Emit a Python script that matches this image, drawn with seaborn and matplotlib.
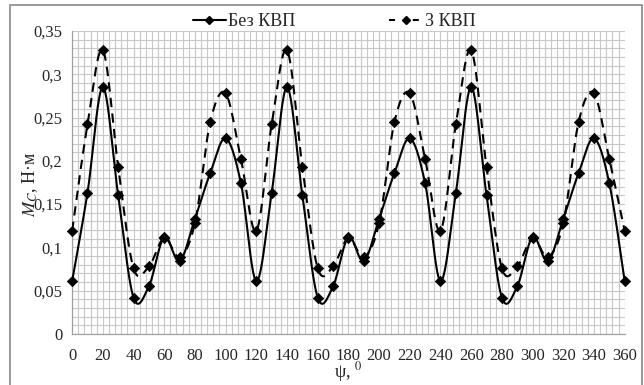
import numpy as np
import pandas as pd
import matplotlib
matplotlib.use("Agg")
import matplotlib.pyplot as plt
import seaborn as sns
from matplotlib.lines import Line2D
from matplotlib.patches import Rectangle
from matplotlib.ticker import MultipleLocator, FuncFormatter

# rotation angle, degrees
psi = list(range(0, 361, 10))

# one 120-degree period of each curve (the pattern repeats three times)
no_kvp_period = [0.061, 0.163, 0.285, 0.160, 0.042, 0.055, 0.112, 0.084,
                 0.133, 0.186, 0.226, 0.174]
kvp_period = [0.119, 0.242, 0.328, 0.193, 0.076, 0.078, 0.111, 0.089,
              0.128, 0.245, 0.278, 0.202]

m_no_kvp = no_kvp_period * 3 + [no_kvp_period[0]]
m_kvp = kvp_period * 3 + [kvp_period[0]]

labels = ["Без КВП", "З КВП"]
x_ticks = list(range(0, 361, 20))
y_ticks = [0, 0.05, 0.1, 0.15, 0.2, 0.25, 0.3, 0.35]


def smooth_curve(x, y, steps=24):
    """Excel-like smoothed line (Catmull-Rom / Bezier with 1/6 tension)."""
    x = np.asarray(x, dtype=float)
    y = np.asarray(y, dtype=float)
    px = np.concatenate([[x[0]], x, [x[-1]]])
    py = np.concatenate([[y[0]], y, [y[-1]]])
    xs, ys = [], []
    t = np.linspace(0, 1, steps, endpoint=False)
    for i in range(1, len(px) - 2):
        p0 = np.array([px[i - 1], py[i - 1]])
        p1 = np.array([px[i], py[i]])
        p2 = np.array([px[i + 1], py[i + 1]])
        p3 = np.array([px[i + 2], py[i + 2]])
        c1 = p1 + (p2 - p0) / 6
        c2 = p2 - (p3 - p1) / 6
        b = ((1 - t) ** 3)[:, None] * p1 + (3 * (1 - t) ** 2 * t)[:, None] * c1 \
            + (3 * (1 - t) * t ** 2)[:, None] * c2 + (t ** 3)[:, None] * p2
        xs.extend(b[:, 0])
        ys.extend(b[:, 1])
    xs.append(x[-1])
    ys.append(y[-1])
    return np.array(xs), np.array(ys)


sns.set_style("white")
plt.rcParams['font.family'] = ['Liberation Serif', 'DejaVu Serif']
plt.rcParams['mathtext.fontset'] = 'stix'

fig = plt.figure(figsize=(6.44, 3.85), dpi=100)
ax = fig.add_axes([0.112, 0.1325, 0.858, 0.787])

df = pd.DataFrame({"psi": psi, "no_kvp": m_no_kvp, "kvp": m_kvp})

# smoothed lines
sx, sy = smooth_curve(df["psi"], df["no_kvp"])
sns.lineplot(x=sx, y=sy, color="black", linewidth=1.5, sort=False,
             estimator=None, ax=ax, zorder=3)
sx, sy = smooth_curve(df["psi"], df["kvp"])
sns.lineplot(x=sx, y=sy, color="black", linewidth=1.5, sort=False,
             estimator=None, linestyle=(0, (4.5, 3)), ax=ax, zorder=3)

# markers at the data points
for col in ["no_kvp", "kvp"]:
    sns.scatterplot(data=df, x="psi", y=col, marker="D", s=28, color="black",
                    edgecolor="black", linewidth=0.5, ax=ax, zorder=4,
                    clip_on=False)

ax.set_xlim(0, 360)
ax.set_ylim(0, 0.35)
ax.set_xticks(x_ticks)
ax.set_yticks(y_ticks)
ax.xaxis.set_minor_locator(MultipleLocator(4))
ax.yaxis.set_minor_locator(MultipleLocator(0.01))
ax.yaxis.set_major_formatter(FuncFormatter(lambda v, p: f"{v:g}".replace(".", ",")))

ax.grid(which="both", color="#c8c8c8", linewidth=0.8)
ax.set_axisbelow(True)
for side in ["top", "right"]:
    ax.spines[side].set_visible(False)
for side in ["left", "bottom"]:
    ax.spines[side].set_color("#a0a0a0")
    ax.spines[side].set_linewidth(0.9)
ax.tick_params(which="major", length=4, color="#a0a0a0", labelsize=12,
               pad=3, direction="out")
ax.tick_params(which="minor", length=0)
ax.tick_params(axis="x", pad=6)

ax.set_xlabel(r"ψ, $^{0}$", fontsize=13, labelpad=-3)
ax.set_ylabel("")
fig.text(0.047, 0.52, r"$M_C$, Н·м", rotation=90, fontsize=13,
         ha="center", va="center")

handles = [
    Line2D([], [], color="black", linewidth=1.5, marker="D", markersize=4),
    Line2D([], [], color="black", linewidth=1.5, marker="D", markersize=4,
           linestyle=(0, (2.9, 8.5))),
]
fig.legend(handles, labels, loc="center", bbox_to_anchor=(0.519, 0.944),
           ncol=2, frameon=False, fontsize=13, handlelength=1.8,
           handletextpad=0.15, columnspacing=5.2, borderpad=0.1)

# chart area frame
fig.patches.append(Rectangle((10 / 644, -0.02), 632 / 644, 1 - 5 / 385 + 0.02,
                             transform=fig.transFigure, fill=False,
                             edgecolor="#888888", linewidth=1.2))

fig.savefig("out.png", dpi=100)
